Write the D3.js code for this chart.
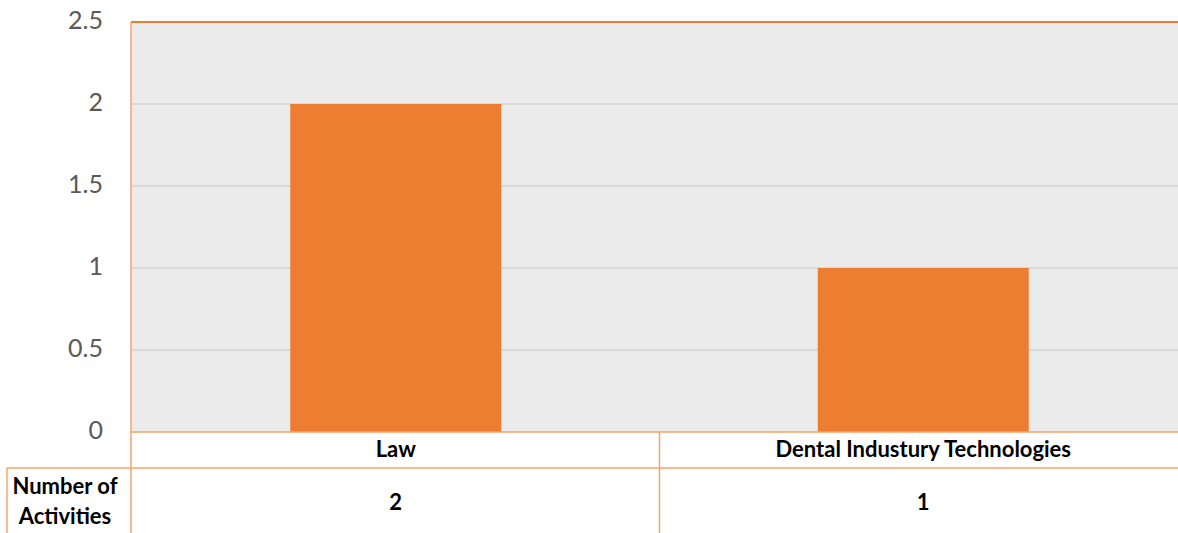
<!DOCTYPE html>
<html><head><meta charset="utf-8">
<script src="https://cdn.jsdelivr.net/npm/d3@7"></script>
<style>body{margin:0;background:#fff}svg{display:block}</style>
</head><body>
<script>
const categories = ["Law", "Dental Industury Technologies"];
const values = [2, 1];
const seriesName = ["Number of", "Activities"];
const yTicks = [0, 0.5, 1, 1.5, 2, 2.5];

const W = 1178, H = 533;
const svg = d3.select("body").append("svg").attr("width", W).attr("height", H);
const mLeft = 131, mTop = 22, mBottom = 432, mRight = 1187;
const x = d3.scaleBand().domain(categories).range([mLeft + 1, mRight]).paddingInner(0).paddingOuter(0);
const y = d3.scaleLinear().domain([0, 2.5]).range([mBottom, mTop]);
const orange = "#ed7d31", lineOr = "#f4a46a";

svg.append("rect").attr("x", mLeft).attr("y", mTop).attr("width", W - mLeft).attr("height", mBottom - mTop).attr("fill", "#ebebeb");
svg.append("g").selectAll("line").data(yTicks.slice(1, -1)).join("line")
  .attr("x1", mLeft).attr("x2", W).attr("y1", d => y(d)).attr("y2", d => y(d))
  .attr("stroke", "#d9d9d9").attr("stroke-width", 2);

const bw = x.bandwidth() * 0.4;
svg.append("g").selectAll("rect").data(categories).join("rect")
  .attr("x", d => x(d) + (x.bandwidth() - bw) / 2).attr("width", bw)
  .attr("y", (d, i) => y(values[i])).attr("height", (d, i) => y(0) - y(values[i]))
  .attr("fill", orange);

// borders
svg.append("line").attr("x1", mLeft).attr("x2", W).attr("y1", mTop).attr("y2", mTop).attr("stroke", orange).attr("stroke-width", 2);
svg.append("line").attr("x1", mLeft).attr("x2", mLeft).attr("y1", mTop).attr("y2", H).attr("stroke", lineOr).attr("stroke-width", 1.5);

const yAxis = d3.axisLeft(y).tickValues(yTicks).tickSize(0).tickPadding(28).tickFormat(d => String(d));
const ga = svg.append("g").attr("transform", `translate(${mLeft},0)`).call(yAxis);
ga.select(".domain").remove();
ga.selectAll("text").attr("font-family", "Lato, sans-serif").attr("font-size", 25).attr("fill", "#595959").attr("dy", "0.26em");

// data table
const r1 = 468;
svg.append("line").attr("x1", mLeft).attr("x2", W).attr("y1", mBottom).attr("y2", mBottom).attr("stroke", lineOr).attr("stroke-width", 1.5);
svg.append("line").attr("x1", 7).attr("x2", W).attr("y1", r1).attr("y2", r1).attr("stroke", lineOr).attr("stroke-width", 1.5);
svg.append("line").attr("x1", 7).attr("x2", 7).attr("y1", r1).attr("y2", H).attr("stroke", lineOr).attr("stroke-width", 1.5);
svg.append("g").selectAll("line").data(categories.slice(1)).join("line")
  .attr("x1", d => x(d)).attr("x2", d => x(d)).attr("y1", mBottom).attr("y2", H)
  .attr("stroke", lineOr).attr("stroke-width", 1.5);

const tf = "Lato, sans-serif";
svg.append("g").selectAll("text").data(categories).join("text")
  .attr("x", d => x(d) + x.bandwidth() / 2).attr("y", 457).attr("text-anchor", "middle")
  .attr("font-family", tf).attr("font-weight", "bold").attr("font-size", 22).attr("fill", "#000").text(d => d);
svg.append("g").selectAll("text").data(values).join("text")
  .attr("x", (d, i) => x(categories[i]) + x.bandwidth() / 2).attr("y", 510).attr("text-anchor", "middle")
  .attr("font-family", tf).attr("font-weight", "bold").attr("font-size", 22).attr("fill", "#000").text(d => d);
svg.append("g").selectAll("text").data(seriesName).join("text")
  .attr("x", 65).attr("y", (d, i) => 494 + i * 30).attr("text-anchor", "middle")
  .attr("font-family", tf).attr("font-weight", "bold").attr("font-size", 22).attr("fill", "#000").text(d => d);
</script>
</body></html>
